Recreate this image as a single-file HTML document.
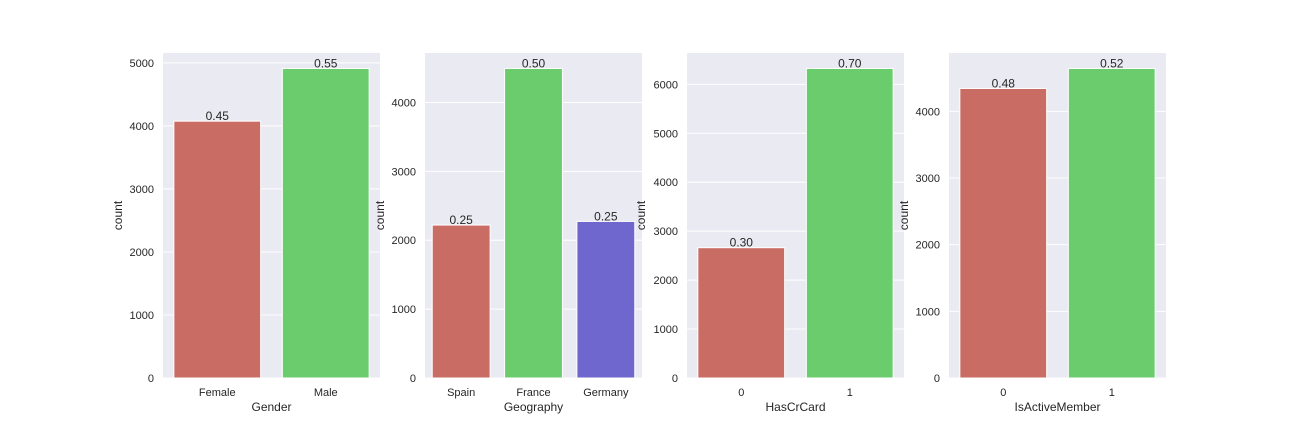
<!DOCTYPE html>
<html><head><meta charset="utf-8"><style>
body{margin:0;background:#fff;}
svg text{font-family:"Liberation Sans",sans-serif;fill:#262626;}
</style></head><body>
<svg id="chart" width="1296" height="432"></svg>
<script>
const panelNames=["Gender","Geography","HasCrCard","IsActiveMember"];
const cats0=["Female","Male"];
const vals0=[4075,4911];
const cats1=["Spain","France","Germany"];
const vals1=[2220,4493,2273];
const cats2=["0","1"];
const vals2=[2662,6324];
const cats3=["0","1"];
const vals3=[4343,4643];
const ticks0=[0,1000,2000,3000,4000,5000];
const ticks1=[0,1000,2000,3000,4000];
const ticks2=[0,1000,2000,3000,4000,5000,6000];
const ticks3=[0,1000,2000,3000,4000];
const colors=["#c96c64","#6acc6d","#6f67cd"];
const panels=[[163,cats0,vals0,ticks0],[425,cats1,vals1,ticks1],[687,cats2,vals2,ticks2],[949,cats3,vals3,ticks3]];
const svgEl=document.getElementById('chart');
const NS="http://www.w3.org/2000/svg";
function mk(tag,attrs,parent){const e=document.createElementNS(NS,tag);for(const k in attrs)e.setAttribute(k,attrs[k]);(parent||svgEl).appendChild(e);return e;}
const W=217,topY=53,botY=378;
panels.forEach((p,pi)=>{
  const [x0,cats,vals,ticks]=p;
  const total=vals.reduce((a,b)=>a+b,0);
  const ymax=Math.max(...vals)*1.05;
  const y=v=>botY-(v/ymax)*(botY-topY);
  const band=W/cats.length;
  const g=mk('g',{});
  
  
  const bg=mk('rect',{x:x0,y:topY,width:W,height:botY-topY,fill:'#eaeaf2'},g);
  
  
  ticks.forEach(t=>{
    mk('line',{x1:x0,x2:x0+W,y1:y(t),y2:y(t),stroke:'#fff','stroke-width':1},g);
    const tl=mk('text',{x:x0-9,y:y(t)+4,'text-anchor':'end','font-size':11},g);
    tl.textContent=t;
    
    
  });
  cats.forEach((c,i)=>{
    const cx=x0+band*(i+0.5), bw=band*0.8;
    const r=mk('rect',{x:cx-bw/2,y:y(vals[i]),width:bw,height:botY-y(vals[i]),fill:colors[i],stroke:'#fff','stroke-width':1},g);
    
    
    const a=mk('text',{x:cx,y:y(vals[i])-1,'text-anchor':'middle','font-size':12},g);
    a.textContent=(vals[i]/total).toFixed(2);
    
    
    const xl=mk('text',{x:cx,y:396,'text-anchor':'middle','font-size':11},g);
    xl.textContent=c;
    
    
  });
  const xt=mk('text',{x:x0+W/2,y:411,'text-anchor':'middle','font-size':12},g);
  xt.textContent=panelNames[pi];
  
  
  const ylx=[122,384,645,908][pi];
  const ym=(topY+botY)/2;
  const yt=mk('text',{x:ylx,y:ym,'text-anchor':'middle','font-size':12,transform:`rotate(-90 ${ylx} ${ym})`},g);
  yt.textContent='count';
  
  
});
</script>
</body></html>
